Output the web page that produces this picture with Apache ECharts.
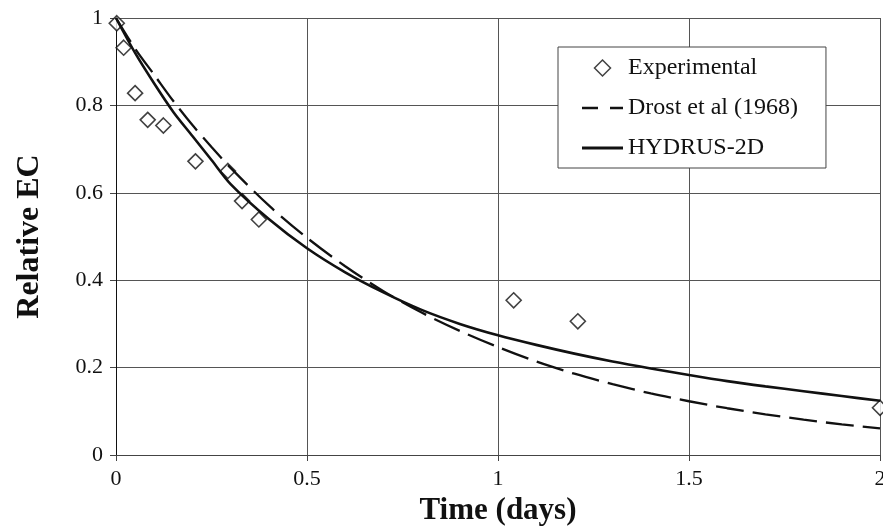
<!DOCTYPE html>
<html>
<head>
<meta charset="utf-8">
<script src="https://cdn.jsdelivr.net/npm/echarts@6/dist/echarts.min.js"></script>
<style>html,body{margin:0;padding:0;background:#fff;}#c{width:883px;height:530px;}</style>
</head>
<body>
<div id="c"></div>
<script>
// Experimental points
var expTime = [0.002, 0.020, 0.050, 0.083, 0.124, 0.208, 0.293, 0.330, 0.374, 1.041, 1.209, 2.0];
var expEC   = [0.988, 0.932, 0.828, 0.767, 0.754, 0.672, 0.650, 0.581, 0.539, 0.354, 0.306, 0.108];

// Model curves
var curveTime = [0, 0.05, 0.1, 0.15, 0.2, 0.25, 0.3, 0.4, 0.5, 0.6, 0.7, 0.8, 0.9, 1.0, 1.1, 1.2, 1.3, 1.4, 1.5, 1.6, 1.7, 1.8, 1.9, 2.0];
var drostEC  = [1.0, 0.93, 0.87, 0.81, 0.755, 0.705, 0.657, 0.571, 0.497, 0.432, 0.375, 0.326, 0.284, 0.247, 0.214, 0.186, 0.162, 0.141, 0.123, 0.107, 0.093, 0.081, 0.070, 0.061];
var hydrusEC = [1.0, 0.92, 0.85, 0.785, 0.73, 0.675, 0.62, 0.54, 0.473, 0.418, 0.372, 0.332, 0.300, 0.274, 0.252, 0.232, 0.214, 0.198, 0.183, 0.169, 0.157, 0.146, 0.135, 0.124];

var xTicks = [0, 0.5, 1, 1.5, 2];
var yTicks = [0, 0.2, 0.4, 0.6, 0.8, 1];

function zip(a, b) { return a.map(function (v, i) { return [v, b[i]]; }); }

var FONT = 'Liberation Serif';
var chart = echarts.init(document.getElementById('c'), null, {renderer: 'canvas'});
chart.setOption({
  animation: false,
  backgroundColor: '#ffffff',
  grid: {left: 116, right: 3, top: 18, bottom: 75, containLabel: false, outerBoundsMode: 'none'},
  legend: {
    orient: 'vertical',
    left: 558, top: 47,
    padding: [9, 28, 8, 24],
    itemWidth: 41, itemHeight: 16, itemGap: 16,
    symbolKeepAspect: true,
    backgroundColor: '#ffffff',
    borderColor: '#444', borderWidth: 1,
    textStyle: {fontFamily: FONT, fontSize: 24, color: '#111'},
    data: [
      {name: 'Experimental', icon: 'path://M7,0.5L13.5,7L7,13.5L0.5,7Z',
       itemStyle: {color: '#ffffff', borderColor: '#111', borderWidth: 1.5}},
      {name: 'Drost et al (1968)', icon: 'path://M0,0h16v2.6h-16zM28,0h13v2.6h-13z',
       itemStyle: {color: '#111', borderWidth: 0}},
      {name: 'HYDRUS-2D', icon: 'path://M0,0h41v2.8h-41z',
       itemStyle: {color: '#111', borderWidth: 0}}
    ]
  },
  xAxis: {
    type: 'value', min: xTicks[0], max: xTicks[xTicks.length - 1], interval: 0.5,
    name: 'Time (days)', nameLocation: 'middle', nameGap: 40,
    nameTextStyle: {fontFamily: FONT, fontSize: 31, fontWeight: 'bold', color: '#111'},
    axisLine: {show: true, onZero: false, lineStyle: {color: '#444', width: 1}},
    axisTick: {show: true, length: 6, lineStyle: {color: '#444'}},
    axisLabel: {fontFamily: FONT, fontSize: 22, color: '#111', margin: 13},
    splitLine: {show: true, lineStyle: {color: '#555', width: 1}}
  },
  yAxis: {
    type: 'value', min: yTicks[0], max: yTicks[yTicks.length - 1], interval: 0.2,
    name: 'Relative EC', nameLocation: 'middle', nameGap: 70, nameRotate: 90,
    nameTextStyle: {fontFamily: FONT, fontSize: 32, fontWeight: 'bold', color: '#111'},
    axisLine: {show: true, onZero: false, lineStyle: {color: '#111', width: 1}},
    axisTick: {show: true, length: 6, lineStyle: {color: '#444'}},
    axisLabel: {fontFamily: FONT, fontSize: 22, color: '#111', margin: 13},
    splitLine: {show: true, lineStyle: {color: '#555', width: 1}}
  },
  series: [
    {
      name: 'Experimental', type: 'scatter', symbol: 'diamond', symbolSize: 15,
      itemStyle: {color: '#ffffff', borderColor: '#111', borderWidth: 1.6},
      data: zip(expTime, expEC), z: 2
    },
    {
      name: 'Drost et al (1968)', type: 'line', symbol: 'none', smooth: 0.3,
      lineStyle: {color: '#111', width: 2.3, type: [28, 9]},
      itemStyle: {color: '#111'},
      data: zip(curveTime, drostEC), z: 3
    },
    {
      name: 'HYDRUS-2D', type: 'line', symbol: 'none', smooth: 0.3,
      lineStyle: {color: '#111', width: 2.6},
      itemStyle: {color: '#111'},
      data: zip(curveTime, hydrusEC), z: 3
    }
  ]
});
</script>
</body>
</html>
